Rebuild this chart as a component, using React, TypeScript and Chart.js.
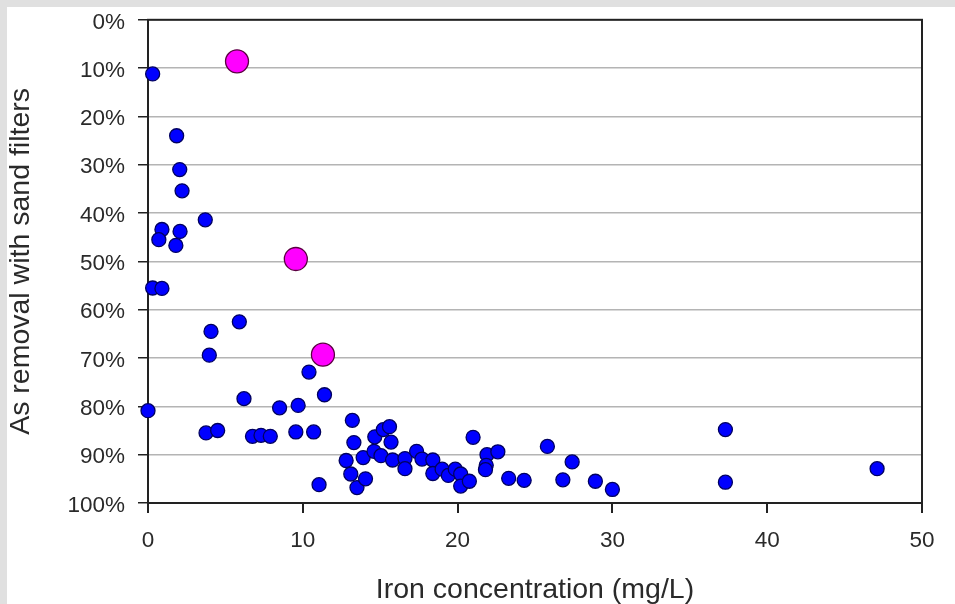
import React, { useEffect, useRef } from "react";
import { Chart, registerables } from "chart.js";

Chart.register(...registerables);

// Iron concentration (mg/L) and As removal (%) — blue points
const ironBlue: number[] = [
  0.3, 1.85, 2.05, 2.2, 3.7, 0.9, 2.07, 0.7, 1.8, 0.3, 0.9, 4.07, 5.9, 3.96, 10.4, 6.2, 11.4, 8.5, 9.7, 0.0,
  3.75, 4.5, 6.75, 7.3, 7.9, 9.55, 10.7, 11.05,
  13.2, 13.3, 12.8, 13.1, 13.5, 14.05, 13.9, 14.6, 14.65, 15.05, 15.2, 15.6, 15.7, 15.8, 16.6, 16.6, 17.35,
  17.7, 18.4, 18.4, 19.0, 19.4, 19.85, 20.2, 20.2, 20.76, 21.0, 21.9, 21.85, 21.8, 22.6, 23.3, 24.3, 25.8,
  26.8, 27.4, 28.9, 30.0, 37.3, 37.3, 47.1,
];
const removalBlue: number[] = [
  11.2, 24.0, 31.0, 35.4, 41.4, 43.4, 43.8, 45.5, 46.7, 55.5, 55.6, 64.5, 62.5, 69.4, 72.9, 78.4, 77.6, 80.3, 79.8, 80.9,
  85.5, 85.0, 86.2, 86.0, 86.2, 85.3, 85.3, 96.2,
  82.9, 87.5, 91.2, 94.0, 96.8, 95.0, 90.6, 89.3, 86.3, 90.2, 84.8, 84.2, 87.4, 91.1, 90.8, 92.9, 89.3,
  90.9, 91.1, 93.9, 93.0, 94.3, 93.0, 94.0, 96.5, 95.5, 86.4, 90.0, 92.2, 93.1, 89.4, 94.9, 95.3, 88.3,
  95.2, 91.5, 95.5, 97.2, 84.8, 95.7, 92.9,
];

// Highlighted (magenta) points
const ironPink: number[] = [5.75, 9.55, 11.3];
const removalPink: number[] = [8.6, 49.5, 69.3];

const xTicks: number[] = [0, 10, 20, 30, 40, 50];
const yTicks: number[] = [0, 10, 20, 30, 40, 50, 60, 70, 80, 90, 100];

const xTitle = "Iron concentration (mg/L)";
const yTitle = "As removal with sand filters";

const FONT = "'Liberation Sans', Arial, Helvetica, sans-serif";
const TEXT = "#2a2a2a";

const framePlugin = {
  id: "frame",
  beforeDatasetsDraw(chart: any) {
    const { ctx, chartArea } = chart;
    ctx.save();
    ctx.strokeStyle = "#222222";
    ctx.lineWidth = 2;
    ctx.strokeRect(chartArea.left, chartArea.top, chartArea.right - chartArea.left, chartArea.bottom - chartArea.top);
    ctx.restore();
  },
};

export default function App() {
  const ref = useRef<HTMLCanvasElement | null>(null);

  useEffect(() => {
    if (!ref.current) return;
    const chart = new Chart(ref.current, {
      type: "scatter",
      data: {
        datasets: [
          {
            label: "highlight",
            data: ironPink.map((x, i) => ({ x, y: removalPink[i] })),
            backgroundColor: "#ff00ff",
            borderColor: "#5a0040",
            borderWidth: 1.3,
            pointRadius: 11.5,
            pointHoverRadius: 11.5,
            clip: false as any,
          },
          {
            label: "samples",
            data: ironBlue.map((x, i) => ({ x, y: removalBlue[i] })),
            backgroundColor: "#0000ff",
            borderColor: "#000060",
            borderWidth: 1.3,
            pointRadius: 7,
            pointHoverRadius: 7,
            clip: false as any,
          },
        ],
      },
      options: {
        animation: false,
        responsive: false,
        devicePixelRatio: 1,
        layout: { padding: { left: 0, top: 11.5, right: 33, bottom: 0 } },
        plugins: { legend: { display: false }, tooltip: { enabled: false } },
        scales: {
          x: {
            type: "linear",
            min: 0,
            max: 50,
            afterBuildTicks: (s: any) => {
              s.ticks = xTicks.map((v) => ({ value: v }));
            },
            afterFit: (s: any) => {
              s.height = 101;
              s.paddingLeft = 0;
              s.paddingRight = 0;
            },
            border: { display: false },
            grid: { drawOnChartArea: false, color: "#222222", tickColor: "#222222", tickLength: 10, lineWidth: 2 },
            ticks: { color: TEXT, font: { family: FONT, size: 22.5 }, padding: 14 },
            title: {
              display: true,
              text: xTitle,
              color: TEXT,
              font: { family: FONT, size: 28.5, lineHeight: 1.0 },
              padding: { top: 0, bottom: 0 },
            },
          },
          y: {
            type: "linear",
            min: 0,
            max: 100,
            reverse: true,
            afterBuildTicks: (s: any) => {
              s.ticks = yTicks.map((v) => ({ value: v }));
            },
            afterFit: (s: any) => {
              s.width = 141;
              s.paddingTop = 0;
              s.paddingBottom = 0;
            },
            border: { display: false },
            grid: { color: "#b4b4b4", tickColor: "#222222", tickLength: 10, lineWidth: 1.5 },
            ticks: {
              color: TEXT,
              font: { family: FONT, size: 22.5, lineHeight: 1.0 },
              padding: 13,
              labelOffset: 2.5,
              callback: (v: any) => `${v}%`,
            },
            title: {
              display: true,
              text: yTitle,
              color: TEXT,
              font: { family: FONT, size: 28.5, lineHeight: 1.0 },
              padding: { top: 0, bottom: 0 },
            },
          },
        },
      },
      plugins: [framePlugin],
    });
    return () => chart.destroy();
  }, []);

  return (
    <div style={{ position: "absolute", left: 0, top: 0, width: 955, height: 604, background: "#e0e0e0", overflow: "hidden" }}>
      <div style={{ position: "absolute", left: 7, top: 7, width: 948, height: 597, background: "#ffffff" }}>
        <canvas ref={ref} width={948} height={597} style={{ display: "block", width: 948, height: 597 }} />
      </div>
    </div>
  );
}
